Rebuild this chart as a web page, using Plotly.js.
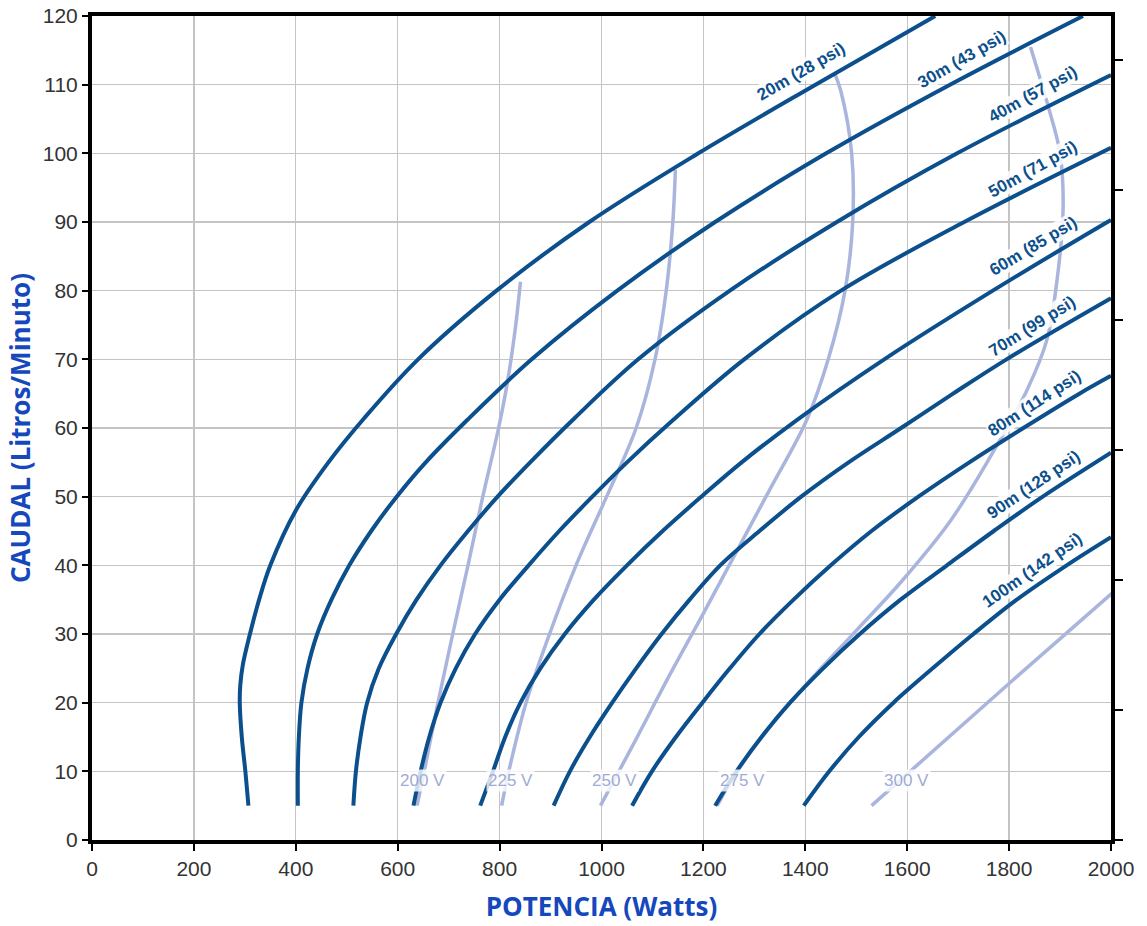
<!DOCTYPE html>
<html><head><meta charset="utf-8">
<script src="https://cdn.plot.ly/plotly-3.0.1.min.js"></script>
<style>html,body{margin:0;padding:0;background:#fff}#chart{width:1147px;height:926px}</style>
</head><body><div id="chart"></div>
<script>
// ---- Pressure (head) curves: POTENCIA (W) vs CAUDAL (L/min) ----
const headLabels = ['20m (28 psi)','30m (43 psi)','40m (57 psi)','50m (71 psi)','60m (85 psi)','70m (99 psi)','80m (114 psi)','90m (128 psi)','100m (142 psi)'];

const power_20m = [307, 301, 294, 290, 291, 296, 310, 328, 350, 400, 464, 535, 640, 794, 976, 1190, 1420, 1655];
const flow_20m  = [5, 10, 15, 20, 22.5, 25.5, 30, 35, 40, 48, 55, 61.5, 70, 80, 90, 100, 110, 120];

const power_30m = [404, 404, 406, 411, 423, 442, 470, 505, 548, 598, 655, 737, 863, 1031, 1223, 1441, 1684, 1945];
const flow_30m  = [5, 10, 15, 20, 25, 30, 35, 40, 45, 50, 55, 61.2, 70, 80, 90, 100, 110, 120];

const power_40m = [513, 518, 527, 540, 563, 597, 637, 684, 738, 796, 860, 948, 1072, 1252, 1462, 1698, 2000];
const flow_40m  = [5, 10, 15, 20, 25, 30, 35, 40, 45, 50, 55, 61.5, 70, 80, 90, 100, 111.4];

const power_50m = [631, 645, 662, 684, 714, 752, 800, 857, 917, 982, 1050, 1141, 1280, 1470, 1712, 2000];
const flow_50m  = [5, 10, 15, 20, 25, 30, 35, 40, 45, 50, 55, 61.2, 70, 80, 90, 100.8];

const power_60m = [762, 787, 811, 841, 880, 928, 985, 1050, 1120, 1196, 1275, 1384, 1555, 1768, 1993, 2000];
const flow_60m  = [5, 10, 15, 20, 25, 30, 35, 40, 45, 50, 55, 61.2, 70, 80, 90, 90.3];

const power_70m = [906, 938, 977, 1021, 1068, 1118, 1173, 1233, 1310, 1392, 1485, 1588, 1690, 1795, 2000];
const flow_70m  = [5, 10, 15, 20, 25, 30, 35, 40, 45, 50, 55, 60, 65, 70, 78.9];

const power_80m = [1060, 1099, 1146, 1198, 1252, 1310, 1377, 1450, 1530, 1622, 1722, 1828, 1938, 2000];
const flow_80m  = [5, 10, 15, 20, 25, 30, 35, 40, 45, 50, 55, 60, 65, 67.6];

const power_90m = [1223, 1265, 1314, 1370, 1435, 1507, 1587, 1678, 1770, 1866, 2000];
const flow_90m  = [5, 10, 15, 20, 25, 30, 35, 40, 45, 50, 56.4];

const power_100m = [1397, 1447, 1505, 1573, 1650, 1730, 1815, 1913, 2000];
const flow_100m  = [5, 10, 15, 20, 25, 30, 35, 40, 44.1];

// ---- Voltage curves ----
const voltLabels = ['200 V','225 V','250 V','275 V','300 V'];

const power_200V = [638, 652, 679, 708, 738, 767, 798, 815, 830, 841];
const flow_200V  = [5, 10, 20, 30, 40, 50, 60, 66.5, 74, 81.3];

const power_225V = [804, 818, 852, 898, 950, 1010, 1068, 1105, 1127, 1140, 1145];
const flow_225V  = [5, 10, 20, 30, 40, 50, 60, 70, 80, 90, 97.6];

const power_250V = [998, 1063, 1130, 1200, 1265, 1330, 1403, 1445, 1478, 1493, 1491, 1470, 1459];
const flow_250V  = [5, 14, 23.5, 33, 42, 51, 61.2, 70, 80, 90, 100, 109, 111.4];

const power_275V = [1227, 1262, 1320, 1400, 1500, 1587, 1685, 1763, 1835, 1874, 1894, 1906, 1900, 1880, 1842];
const flow_275V  = [5, 9.5, 15.5, 22.5, 30.5, 37.5, 46.5, 55.8, 65.5, 72.8, 81.5, 92, 100, 106, 115.5];

const power_300V = [1530, 1613, 1800, 2000, 2040];
const flow_300V  = [5, 10.5, 22.8, 35.8, 38.4];

// ---- styling ----
const DARK = '#0b4f8c';
const LIGHT = '#a9b5dd';
const TITLE_BLUE = '#1547bd';

const headSeries = [
  [power_20m, flow_20m], [power_30m, flow_30m], [power_40m, flow_40m],
  [power_50m, flow_50m], [power_60m, flow_60m], [power_70m, flow_70m],
  [power_80m, flow_80m], [power_90m, flow_90m], [power_100m, flow_100m]
];
const voltSeries = [
  [power_200V, flow_200V], [power_225V, flow_225V], [power_250V, flow_250V],
  [power_275V, flow_275V], [power_300V, flow_300V]
];

const traces = [];
voltSeries.forEach((s, i) => {
  traces.push({
    x: s[0], y: s[1], name: voltLabels[i], mode: 'lines', type: 'scatter',
    line: {color: LIGHT, width: 3.5, shape: i === 4 ? 'linear' : 'spline', smoothing: 1},
    showlegend: false, hoverinfo: 'name'
  });
});
headSeries.forEach((s, i) => {
  traces.push({
    x: s[0], y: s[1], name: headLabels[i], mode: 'lines', type: 'scatter',
    line: {color: DARK, width: 4, shape: 'spline', smoothing: 1},
    showlegend: false, hoverinfo: 'name'
  });
});

// label placement (annotation anchors)
const headLabelPos = [
  [1392, 111.9, -30], [1707, 113.6, -30], [1846, 108.5, -29],
  [1846, 97.6, -29], [1846, 86.5, -31], [1845, 74.8, -32],
  [1849, 63.6, -33], [1849, 51.7, -34], [1845, 39.2, -35]
];
const voltLabelPos = [[648, 8.6], [821, 8.6], [1025, 8.6], [1277, 8.6], [1598, 8.6]];

const annotations = [];
headLabels.forEach((t, i) => {
  const p = headLabelPos[i];
  annotations.push({
    x: p[0], y: p[1], xref: 'x', yref: 'y', text: '<b>' + t + '</b>', showarrow: false,
    textangle: p[2], font: {family: 'Liberation Sans, Arial, sans-serif', size: 17, color: DARK},
    bgcolor: 'rgba(255,255,255,0.85)', borderpad: 0
  });
});
voltLabels.forEach((t, i) => {
  const p = voltLabelPos[i];
  annotations.push({
    x: p[0], y: p[1], xref: 'x', yref: 'y', text: t, showarrow: false,
    font: {family: 'Liberation Sans, Arial, sans-serif', size: 17, color: '#9fabd4'},
    bgcolor: 'rgba(255,255,255,0.8)', borderpad: 1
  });
});

const tickFont = {family: 'Liberation Sans, Arial, sans-serif', size: 21, color: '#333'};
const layout = {
  width: 1147, height: 926,
  margin: {l: 92, r: 36, t: 16, b: 86},
  paper_bgcolor: '#fff', plot_bgcolor: '#fff',
  showlegend: false,
  xaxis: {
    range: [0, 2000], tick0: 0, dtick: 200, showgrid: true, gridcolor: '#c4c4c4', gridwidth: 1.2,
    zeroline: false, showline: true, linecolor: '#000', linewidth: 4, mirror: true,
    ticks: 'outside', ticklen: 7, tickwidth: 2, tickcolor: '#000', tickfont: tickFont,
    title: {text: 'POTENCIA (Watts)', font: {family: 'Open Sans, sans-serif', size: 26, color: TITLE_BLUE, weight: 'bold'}, standoff: 20}
  },
  yaxis: {
    range: [0, 120], tick0: 0, dtick: 10, showgrid: true, gridcolor: '#c4c4c4', gridwidth: 1.2,
    zeroline: false, showline: true, linecolor: '#000', linewidth: 4, mirror: true,
    ticks: 'outside', ticklen: 6, tickwidth: 2, tickcolor: '#000', tickfont: tickFont,
    title: {text: 'CAUDAL (Litros/Minuto)', font: {family: 'Open Sans, sans-serif', size: 26, color: TITLE_BLUE, weight: 'bold'}, standoff: 6}
  },
  yaxis2: {
    overlaying: 'y', side: 'right', anchor: 'x', range: [0, 120 / 3.78541], tick0: 0, dtick: 5,
    ticks: 'outside', ticklen: 8, tickwidth: 2.5, tickcolor: '#000', showticklabels: false,
    showgrid: false, zeroline: false, showline: true, linecolor: '#000', linewidth: 4
  },
  annotations: annotations
};
traces.push({x: [1000], y: [10], yaxis: 'y2', mode: 'markers', marker: {opacity: 0}, hoverinfo: 'skip', showlegend: false});

Plotly.newPlot('chart', traces, layout, {displayModeBar: false, staticPlot: true});
</script></body></html>
